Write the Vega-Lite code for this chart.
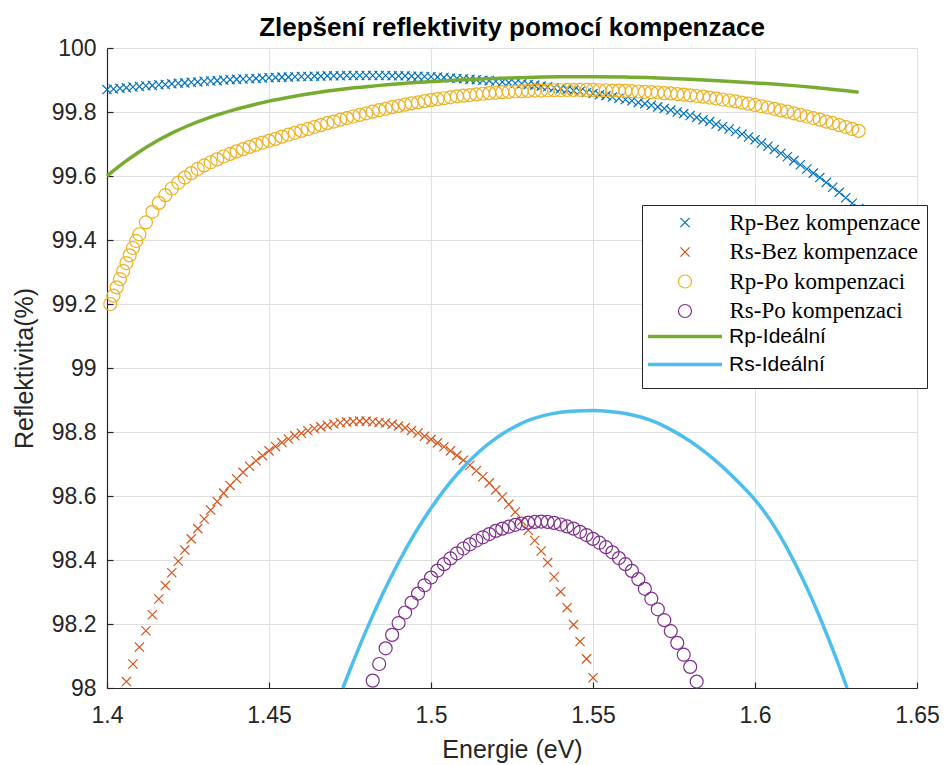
{
"$schema":"https://vega.github.io/schema/vega-lite/v6.json",
"width":810,"height":640,
"autosize":{"type":"none"},
"padding":{"left":107,"top":48,"right":29,"bottom":77},
"background":"#ffffff",
"title":{"text":"Zlepšení reflektivity pomocí kompenzace","font":"Liberation Sans","fontSize":26,"fontWeight":"bold","color":"#000000","offset":-4,"anchor":"middle"},
"config":{
 "view":{"stroke":null},
 "axis":{"domainColor":"#262626","domainWidth":1.2,"tickColor":"#262626","tickSize":-6,"tickWidth":1.2,"gridColor":"#dfdfdf","gridWidth":1,"labelFont":"Liberation Sans","labelFontSize":23,"labelColor":"#262626","titleFont":"Liberation Sans","titleFontSize":25,"titleColor":"#262626","titleFontWeight":"normal","labelFlush":false}
},
"data":{"values":[
{"s":"Rp-Bez kompenzace","e":1.400,"r":99.870},{"s":"Rp-Bez kompenzace","e":1.402,"r":99.872},{"s":"Rp-Bez kompenzace","e":1.404,"r":99.874},{"s":"Rp-Bez kompenzace","e":1.406,"r":99.876},{"s":"Rp-Bez kompenzace","e":1.408,"r":99.878},{"s":"Rp-Bez kompenzace","e":1.410,"r":99.880},{"s":"Rp-Bez kompenzace","e":1.412,"r":99.882},{"s":"Rp-Bez kompenzace","e":1.414,"r":99.883},{"s":"Rp-Bez kompenzace","e":1.416,"r":99.885},{"s":"Rp-Bez kompenzace","e":1.418,"r":99.886},
{"s":"Rp-Bez kompenzace","e":1.420,"r":99.888},{"s":"Rp-Bez kompenzace","e":1.422,"r":99.890},{"s":"Rp-Bez kompenzace","e":1.424,"r":99.891},{"s":"Rp-Bez kompenzace","e":1.426,"r":99.893},{"s":"Rp-Bez kompenzace","e":1.428,"r":99.894},{"s":"Rp-Bez kompenzace","e":1.430,"r":99.896},{"s":"Rp-Bez kompenzace","e":1.432,"r":99.897},{"s":"Rp-Bez kompenzace","e":1.434,"r":99.898},{"s":"Rp-Bez kompenzace","e":1.436,"r":99.900},{"s":"Rp-Bez kompenzace","e":1.438,"r":99.901},
{"s":"Rp-Bez kompenzace","e":1.440,"r":99.902},{"s":"Rp-Bez kompenzace","e":1.442,"r":99.903},{"s":"Rp-Bez kompenzace","e":1.444,"r":99.904},{"s":"Rp-Bez kompenzace","e":1.446,"r":99.905},{"s":"Rp-Bez kompenzace","e":1.448,"r":99.906},{"s":"Rp-Bez kompenzace","e":1.450,"r":99.907},{"s":"Rp-Bez kompenzace","e":1.452,"r":99.908},{"s":"Rp-Bez kompenzace","e":1.454,"r":99.909},{"s":"Rp-Bez kompenzace","e":1.456,"r":99.909},{"s":"Rp-Bez kompenzace","e":1.458,"r":99.910},
{"s":"Rp-Bez kompenzace","e":1.460,"r":99.911},{"s":"Rp-Bez kompenzace","e":1.462,"r":99.911},{"s":"Rp-Bez kompenzace","e":1.464,"r":99.912},{"s":"Rp-Bez kompenzace","e":1.466,"r":99.912},{"s":"Rp-Bez kompenzace","e":1.468,"r":99.913},{"s":"Rp-Bez kompenzace","e":1.470,"r":99.913},{"s":"Rp-Bez kompenzace","e":1.472,"r":99.913},{"s":"Rp-Bez kompenzace","e":1.474,"r":99.914},{"s":"Rp-Bez kompenzace","e":1.476,"r":99.914},{"s":"Rp-Bez kompenzace","e":1.478,"r":99.914},
{"s":"Rp-Bez kompenzace","e":1.480,"r":99.914},{"s":"Rp-Bez kompenzace","e":1.482,"r":99.914},{"s":"Rp-Bez kompenzace","e":1.484,"r":99.914},{"s":"Rp-Bez kompenzace","e":1.486,"r":99.914},{"s":"Rp-Bez kompenzace","e":1.488,"r":99.913},{"s":"Rp-Bez kompenzace","e":1.490,"r":99.913},{"s":"Rp-Bez kompenzace","e":1.492,"r":99.913},{"s":"Rp-Bez kompenzace","e":1.494,"r":99.912},{"s":"Rp-Bez kompenzace","e":1.496,"r":99.912},{"s":"Rp-Bez kompenzace","e":1.498,"r":99.911},
{"s":"Rp-Bez kompenzace","e":1.500,"r":99.910},{"s":"Rp-Bez kompenzace","e":1.502,"r":99.909},{"s":"Rp-Bez kompenzace","e":1.504,"r":99.908},{"s":"Rp-Bez kompenzace","e":1.506,"r":99.906},{"s":"Rp-Bez kompenzace","e":1.508,"r":99.905},{"s":"Rp-Bez kompenzace","e":1.510,"r":99.904},{"s":"Rp-Bez kompenzace","e":1.512,"r":99.902},{"s":"Rp-Bez kompenzace","e":1.514,"r":99.901},{"s":"Rp-Bez kompenzace","e":1.516,"r":99.899},{"s":"Rp-Bez kompenzace","e":1.518,"r":99.898},
{"s":"Rp-Bez kompenzace","e":1.520,"r":99.896},{"s":"Rp-Bez kompenzace","e":1.522,"r":99.894},{"s":"Rp-Bez kompenzace","e":1.524,"r":99.892},{"s":"Rp-Bez kompenzace","e":1.526,"r":99.890},{"s":"Rp-Bez kompenzace","e":1.528,"r":99.888},{"s":"Rp-Bez kompenzace","e":1.530,"r":99.886},{"s":"Rp-Bez kompenzace","e":1.532,"r":99.884},{"s":"Rp-Bez kompenzace","e":1.534,"r":99.881},{"s":"Rp-Bez kompenzace","e":1.536,"r":99.879},{"s":"Rp-Bez kompenzace","e":1.538,"r":99.876},
{"s":"Rp-Bez kompenzace","e":1.540,"r":99.873},{"s":"Rp-Bez kompenzace","e":1.542,"r":99.870},{"s":"Rp-Bez kompenzace","e":1.544,"r":99.867},{"s":"Rp-Bez kompenzace","e":1.546,"r":99.864},{"s":"Rp-Bez kompenzace","e":1.548,"r":99.861},{"s":"Rp-Bez kompenzace","e":1.550,"r":99.858},{"s":"Rp-Bez kompenzace","e":1.552,"r":99.854},{"s":"Rp-Bez kompenzace","e":1.554,"r":99.851},{"s":"Rp-Bez kompenzace","e":1.556,"r":99.847},{"s":"Rp-Bez kompenzace","e":1.558,"r":99.843},
{"s":"Rp-Bez kompenzace","e":1.560,"r":99.839},{"s":"Rp-Bez kompenzace","e":1.562,"r":99.835},{"s":"Rp-Bez kompenzace","e":1.564,"r":99.830},{"s":"Rp-Bez kompenzace","e":1.566,"r":99.826},{"s":"Rp-Bez kompenzace","e":1.568,"r":99.821},{"s":"Rp-Bez kompenzace","e":1.570,"r":99.816},{"s":"Rp-Bez kompenzace","e":1.572,"r":99.811},{"s":"Rp-Bez kompenzace","e":1.574,"r":99.806},{"s":"Rp-Bez kompenzace","e":1.576,"r":99.800},{"s":"Rp-Bez kompenzace","e":1.578,"r":99.795},
{"s":"Rp-Bez kompenzace","e":1.580,"r":99.789},{"s":"Rp-Bez kompenzace","e":1.582,"r":99.783},{"s":"Rp-Bez kompenzace","e":1.584,"r":99.776},{"s":"Rp-Bez kompenzace","e":1.586,"r":99.770},{"s":"Rp-Bez kompenzace","e":1.588,"r":99.762},{"s":"Rp-Bez kompenzace","e":1.590,"r":99.755},{"s":"Rp-Bez kompenzace","e":1.592,"r":99.747},{"s":"Rp-Bez kompenzace","e":1.594,"r":99.739},{"s":"Rp-Bez kompenzace","e":1.596,"r":99.731},{"s":"Rp-Bez kompenzace","e":1.598,"r":99.722},
{"s":"Rp-Bez kompenzace","e":1.600,"r":99.713},{"s":"Rp-Bez kompenzace","e":1.602,"r":99.703},{"s":"Rp-Bez kompenzace","e":1.604,"r":99.693},{"s":"Rp-Bez kompenzace","e":1.606,"r":99.683},{"s":"Rp-Bez kompenzace","e":1.608,"r":99.671},{"s":"Rp-Bez kompenzace","e":1.610,"r":99.660},{"s":"Rp-Bez kompenzace","e":1.612,"r":99.648},{"s":"Rp-Bez kompenzace","e":1.614,"r":99.635},{"s":"Rp-Bez kompenzace","e":1.616,"r":99.622},{"s":"Rp-Bez kompenzace","e":1.618,"r":99.609},
{"s":"Rp-Bez kompenzace","e":1.620,"r":99.595},{"s":"Rp-Bez kompenzace","e":1.622,"r":99.580},{"s":"Rp-Bez kompenzace","e":1.624,"r":99.565},{"s":"Rp-Bez kompenzace","e":1.626,"r":99.549},{"s":"Rp-Bez kompenzace","e":1.628,"r":99.532},{"s":"Rp-Bez kompenzace","e":1.630,"r":99.515},{"s":"Rp-Bez kompenzace","e":1.632,"r":99.498},
{"s":"Rs-Bez kompenzace","e":1.406,"r":98.020},{"s":"Rs-Bez kompenzace","e":1.408,"r":98.075},{"s":"Rs-Bez kompenzace","e":1.410,"r":98.128},{"s":"Rs-Bez kompenzace","e":1.412,"r":98.179},{"s":"Rs-Bez kompenzace","e":1.414,"r":98.229},{"s":"Rs-Bez kompenzace","e":1.416,"r":98.278},{"s":"Rs-Bez kompenzace","e":1.418,"r":98.320},{"s":"Rs-Bez kompenzace","e":1.420,"r":98.360},{"s":"Rs-Bez kompenzace","e":1.422,"r":98.396},{"s":"Rs-Bez kompenzace","e":1.424,"r":98.431},
{"s":"Rs-Bez kompenzace","e":1.426,"r":98.466},{"s":"Rs-Bez kompenzace","e":1.428,"r":98.498},{"s":"Rs-Bez kompenzace","e":1.430,"r":98.528},{"s":"Rs-Bez kompenzace","e":1.432,"r":98.556},{"s":"Rs-Bez kompenzace","e":1.434,"r":98.583},{"s":"Rs-Bez kompenzace","e":1.436,"r":98.609},{"s":"Rs-Bez kompenzace","e":1.438,"r":98.633},{"s":"Rs-Bez kompenzace","e":1.440,"r":98.654},{"s":"Rs-Bez kompenzace","e":1.442,"r":98.674},{"s":"Rs-Bez kompenzace","e":1.444,"r":98.693},
{"s":"Rs-Bez kompenzace","e":1.446,"r":98.710},{"s":"Rs-Bez kompenzace","e":1.448,"r":98.726},{"s":"Rs-Bez kompenzace","e":1.450,"r":98.741},{"s":"Rs-Bez kompenzace","e":1.452,"r":98.755},{"s":"Rs-Bez kompenzace","e":1.454,"r":98.767},{"s":"Rs-Bez kompenzace","e":1.456,"r":98.778},{"s":"Rs-Bez kompenzace","e":1.458,"r":98.788},{"s":"Rs-Bez kompenzace","e":1.460,"r":98.796},{"s":"Rs-Bez kompenzace","e":1.462,"r":98.804},{"s":"Rs-Bez kompenzace","e":1.464,"r":98.811},
{"s":"Rs-Bez kompenzace","e":1.466,"r":98.816},{"s":"Rs-Bez kompenzace","e":1.468,"r":98.821},{"s":"Rs-Bez kompenzace","e":1.470,"r":98.825},{"s":"Rs-Bez kompenzace","e":1.472,"r":98.829},{"s":"Rs-Bez kompenzace","e":1.474,"r":98.831},{"s":"Rs-Bez kompenzace","e":1.476,"r":98.833},{"s":"Rs-Bez kompenzace","e":1.478,"r":98.834},{"s":"Rs-Bez kompenzace","e":1.480,"r":98.834},{"s":"Rs-Bez kompenzace","e":1.482,"r":98.832},{"s":"Rs-Bez kompenzace","e":1.484,"r":98.830},
{"s":"Rs-Bez kompenzace","e":1.486,"r":98.828},{"s":"Rs-Bez kompenzace","e":1.488,"r":98.824},{"s":"Rs-Bez kompenzace","e":1.490,"r":98.819},{"s":"Rs-Bez kompenzace","e":1.492,"r":98.813},{"s":"Rs-Bez kompenzace","e":1.494,"r":98.805},{"s":"Rs-Bez kompenzace","e":1.496,"r":98.797},{"s":"Rs-Bez kompenzace","e":1.498,"r":98.787},{"s":"Rs-Bez kompenzace","e":1.500,"r":98.777},{"s":"Rs-Bez kompenzace","e":1.502,"r":98.766},{"s":"Rs-Bez kompenzace","e":1.504,"r":98.754},
{"s":"Rs-Bez kompenzace","e":1.506,"r":98.741},{"s":"Rs-Bez kompenzace","e":1.508,"r":98.727},{"s":"Rs-Bez kompenzace","e":1.510,"r":98.712},{"s":"Rs-Bez kompenzace","e":1.512,"r":98.696},{"s":"Rs-Bez kompenzace","e":1.514,"r":98.679},{"s":"Rs-Bez kompenzace","e":1.516,"r":98.660},{"s":"Rs-Bez kompenzace","e":1.518,"r":98.641},{"s":"Rs-Bez kompenzace","e":1.520,"r":98.619},{"s":"Rs-Bez kompenzace","e":1.522,"r":98.597},{"s":"Rs-Bez kompenzace","e":1.524,"r":98.574},
{"s":"Rs-Bez kompenzace","e":1.526,"r":98.550},{"s":"Rs-Bez kompenzace","e":1.528,"r":98.522},{"s":"Rs-Bez kompenzace","e":1.530,"r":98.493},{"s":"Rs-Bez kompenzace","e":1.532,"r":98.461},{"s":"Rs-Bez kompenzace","e":1.534,"r":98.428},{"s":"Rs-Bez kompenzace","e":1.536,"r":98.392},{"s":"Rs-Bez kompenzace","e":1.538,"r":98.347},{"s":"Rs-Bez kompenzace","e":1.540,"r":98.301},{"s":"Rs-Bez kompenzace","e":1.542,"r":98.251},{"s":"Rs-Bez kompenzace","e":1.544,"r":98.198},
{"s":"Rs-Bez kompenzace","e":1.546,"r":98.145},{"s":"Rs-Bez kompenzace","e":1.548,"r":98.091},{"s":"Rs-Bez kompenzace","e":1.550,"r":98.032},
{"s":"Rp-Po kompenzaci","e":1.401,"r":99.200},{"s":"Rp-Po kompenzaci","e":1.402,"r":99.226},{"s":"Rp-Po kompenzaci","e":1.403,"r":99.252},{"s":"Rp-Po kompenzaci","e":1.404,"r":99.278},{"s":"Rp-Po kompenzaci","e":1.405,"r":99.303},{"s":"Rp-Po kompenzaci","e":1.406,"r":99.328},{"s":"Rp-Po kompenzaci","e":1.407,"r":99.352},{"s":"Rp-Po kompenzaci","e":1.408,"r":99.375},{"s":"Rp-Po kompenzaci","e":1.409,"r":99.397},{"s":"Rp-Po kompenzaci","e":1.410,"r":99.418},
{"s":"Rp-Po kompenzaci","e":1.412,"r":99.455},{"s":"Rp-Po kompenzaci","e":1.414,"r":99.488},{"s":"Rp-Po kompenzaci","e":1.416,"r":99.516},{"s":"Rp-Po kompenzaci","e":1.418,"r":99.540},{"s":"Rp-Po kompenzaci","e":1.420,"r":99.561},{"s":"Rp-Po kompenzaci","e":1.422,"r":99.579},{"s":"Rp-Po kompenzaci","e":1.424,"r":99.595},{"s":"Rp-Po kompenzaci","e":1.426,"r":99.609},{"s":"Rp-Po kompenzaci","e":1.428,"r":99.622},{"s":"Rp-Po kompenzaci","e":1.430,"r":99.633},
{"s":"Rp-Po kompenzaci","e":1.432,"r":99.643},{"s":"Rp-Po kompenzaci","e":1.434,"r":99.652},{"s":"Rp-Po kompenzaci","e":1.436,"r":99.661},{"s":"Rp-Po kompenzaci","e":1.438,"r":99.669},{"s":"Rp-Po kompenzaci","e":1.440,"r":99.677},{"s":"Rp-Po kompenzaci","e":1.442,"r":99.684},{"s":"Rp-Po kompenzaci","e":1.444,"r":99.691},{"s":"Rp-Po kompenzaci","e":1.446,"r":99.698},{"s":"Rp-Po kompenzaci","e":1.448,"r":99.704},{"s":"Rp-Po kompenzaci","e":1.450,"r":99.710},
{"s":"Rp-Po kompenzaci","e":1.452,"r":99.716},{"s":"Rp-Po kompenzaci","e":1.454,"r":99.723},{"s":"Rp-Po kompenzaci","e":1.456,"r":99.729},{"s":"Rp-Po kompenzaci","e":1.458,"r":99.735},{"s":"Rp-Po kompenzaci","e":1.460,"r":99.741},{"s":"Rp-Po kompenzaci","e":1.462,"r":99.747},{"s":"Rp-Po kompenzaci","e":1.464,"r":99.753},{"s":"Rp-Po kompenzaci","e":1.466,"r":99.759},{"s":"Rp-Po kompenzaci","e":1.468,"r":99.765},{"s":"Rp-Po kompenzaci","e":1.470,"r":99.770},
{"s":"Rp-Po kompenzaci","e":1.472,"r":99.776},{"s":"Rp-Po kompenzaci","e":1.474,"r":99.781},{"s":"Rp-Po kompenzaci","e":1.476,"r":99.786},{"s":"Rp-Po kompenzaci","e":1.478,"r":99.791},{"s":"Rp-Po kompenzaci","e":1.480,"r":99.796},{"s":"Rp-Po kompenzaci","e":1.482,"r":99.801},{"s":"Rp-Po kompenzaci","e":1.484,"r":99.806},{"s":"Rp-Po kompenzaci","e":1.486,"r":99.810},{"s":"Rp-Po kompenzaci","e":1.488,"r":99.815},{"s":"Rp-Po kompenzaci","e":1.490,"r":99.819},
{"s":"Rp-Po kompenzaci","e":1.492,"r":99.823},{"s":"Rp-Po kompenzaci","e":1.494,"r":99.827},{"s":"Rp-Po kompenzaci","e":1.496,"r":99.830},{"s":"Rp-Po kompenzaci","e":1.498,"r":99.834},{"s":"Rp-Po kompenzaci","e":1.500,"r":99.837},{"s":"Rp-Po kompenzaci","e":1.502,"r":99.840},{"s":"Rp-Po kompenzaci","e":1.504,"r":99.843},{"s":"Rp-Po kompenzaci","e":1.506,"r":99.846},{"s":"Rp-Po kompenzaci","e":1.508,"r":99.849},{"s":"Rp-Po kompenzaci","e":1.510,"r":99.851},
{"s":"Rp-Po kompenzaci","e":1.512,"r":99.853},{"s":"Rp-Po kompenzaci","e":1.514,"r":99.855},{"s":"Rp-Po kompenzaci","e":1.516,"r":99.857},{"s":"Rp-Po kompenzaci","e":1.518,"r":99.859},{"s":"Rp-Po kompenzaci","e":1.520,"r":99.860},{"s":"Rp-Po kompenzaci","e":1.522,"r":99.862},{"s":"Rp-Po kompenzaci","e":1.524,"r":99.863},{"s":"Rp-Po kompenzaci","e":1.526,"r":99.864},{"s":"Rp-Po kompenzaci","e":1.528,"r":99.865},{"s":"Rp-Po kompenzaci","e":1.530,"r":99.866},
{"s":"Rp-Po kompenzaci","e":1.532,"r":99.867},{"s":"Rp-Po kompenzaci","e":1.534,"r":99.867},{"s":"Rp-Po kompenzaci","e":1.536,"r":99.868},{"s":"Rp-Po kompenzaci","e":1.538,"r":99.868},{"s":"Rp-Po kompenzaci","e":1.540,"r":99.868},{"s":"Rp-Po kompenzaci","e":1.542,"r":99.869},{"s":"Rp-Po kompenzaci","e":1.544,"r":99.869},{"s":"Rp-Po kompenzaci","e":1.546,"r":99.869},{"s":"Rp-Po kompenzaci","e":1.548,"r":99.869},{"s":"Rp-Po kompenzaci","e":1.550,"r":99.869},
{"s":"Rp-Po kompenzaci","e":1.552,"r":99.868},{"s":"Rp-Po kompenzaci","e":1.554,"r":99.868},{"s":"Rp-Po kompenzaci","e":1.556,"r":99.867},{"s":"Rp-Po kompenzaci","e":1.558,"r":99.867},{"s":"Rp-Po kompenzaci","e":1.560,"r":99.866},{"s":"Rp-Po kompenzaci","e":1.562,"r":99.865},{"s":"Rp-Po kompenzaci","e":1.564,"r":99.864},{"s":"Rp-Po kompenzaci","e":1.566,"r":99.863},{"s":"Rp-Po kompenzaci","e":1.568,"r":99.862},{"s":"Rp-Po kompenzaci","e":1.570,"r":99.861},
{"s":"Rp-Po kompenzaci","e":1.572,"r":99.859},{"s":"Rp-Po kompenzaci","e":1.574,"r":99.858},{"s":"Rp-Po kompenzaci","e":1.576,"r":99.856},{"s":"Rp-Po kompenzaci","e":1.578,"r":99.854},{"s":"Rp-Po kompenzaci","e":1.580,"r":99.852},{"s":"Rp-Po kompenzaci","e":1.582,"r":99.850},{"s":"Rp-Po kompenzaci","e":1.584,"r":99.848},{"s":"Rp-Po kompenzaci","e":1.586,"r":99.845},{"s":"Rp-Po kompenzaci","e":1.588,"r":99.842},{"s":"Rp-Po kompenzaci","e":1.590,"r":99.839},
{"s":"Rp-Po kompenzaci","e":1.592,"r":99.836},{"s":"Rp-Po kompenzaci","e":1.594,"r":99.833},{"s":"Rp-Po kompenzaci","e":1.596,"r":99.829},{"s":"Rp-Po kompenzaci","e":1.598,"r":99.826},{"s":"Rp-Po kompenzaci","e":1.600,"r":99.822},{"s":"Rp-Po kompenzaci","e":1.602,"r":99.818},{"s":"Rp-Po kompenzaci","e":1.604,"r":99.814},{"s":"Rp-Po kompenzaci","e":1.606,"r":99.810},{"s":"Rp-Po kompenzaci","e":1.608,"r":99.805},{"s":"Rp-Po kompenzaci","e":1.610,"r":99.801},
{"s":"Rp-Po kompenzaci","e":1.612,"r":99.796},{"s":"Rp-Po kompenzaci","e":1.614,"r":99.791},{"s":"Rp-Po kompenzaci","e":1.616,"r":99.786},{"s":"Rp-Po kompenzaci","e":1.618,"r":99.781},{"s":"Rp-Po kompenzaci","e":1.620,"r":99.776},{"s":"Rp-Po kompenzaci","e":1.622,"r":99.770},{"s":"Rp-Po kompenzaci","e":1.624,"r":99.765},{"s":"Rp-Po kompenzaci","e":1.626,"r":99.759},{"s":"Rp-Po kompenzaci","e":1.628,"r":99.753},{"s":"Rp-Po kompenzaci","e":1.630,"r":99.747},{"s":"Rp-Po kompenzaci","e":1.632,"r":99.741},
{"s":"Rs-Po kompenzaci","e":1.482,"r":98.023},{"s":"Rs-Po kompenzaci","e":1.484,"r":98.075},{"s":"Rs-Po kompenzaci","e":1.486,"r":98.124},{"s":"Rs-Po kompenzaci","e":1.488,"r":98.166},{"s":"Rs-Po kompenzaci","e":1.490,"r":98.203},{"s":"Rs-Po kompenzaci","e":1.492,"r":98.236},{"s":"Rs-Po kompenzaci","e":1.494,"r":98.267},{"s":"Rs-Po kompenzaci","e":1.496,"r":98.295},{"s":"Rs-Po kompenzaci","e":1.498,"r":98.321},{"s":"Rs-Po kompenzaci","e":1.500,"r":98.345},
{"s":"Rs-Po kompenzaci","e":1.502,"r":98.367},{"s":"Rs-Po kompenzaci","e":1.504,"r":98.387},{"s":"Rs-Po kompenzaci","e":1.506,"r":98.405},{"s":"Rs-Po kompenzaci","e":1.508,"r":98.421},{"s":"Rs-Po kompenzaci","e":1.510,"r":98.436},{"s":"Rs-Po kompenzaci","e":1.512,"r":98.449},{"s":"Rs-Po kompenzaci","e":1.514,"r":98.461},{"s":"Rs-Po kompenzaci","e":1.516,"r":98.471},{"s":"Rs-Po kompenzaci","e":1.518,"r":98.481},{"s":"Rs-Po kompenzaci","e":1.520,"r":98.491},
{"s":"Rs-Po kompenzaci","e":1.522,"r":98.498},{"s":"Rs-Po kompenzaci","e":1.524,"r":98.504},{"s":"Rs-Po kompenzaci","e":1.526,"r":98.510},{"s":"Rs-Po kompenzaci","e":1.528,"r":98.514},{"s":"Rs-Po kompenzaci","e":1.530,"r":98.517},{"s":"Rs-Po kompenzaci","e":1.532,"r":98.519},{"s":"Rs-Po kompenzaci","e":1.534,"r":98.520},{"s":"Rs-Po kompenzaci","e":1.536,"r":98.519},{"s":"Rs-Po kompenzaci","e":1.538,"r":98.516},{"s":"Rs-Po kompenzaci","e":1.540,"r":98.511},
{"s":"Rs-Po kompenzaci","e":1.542,"r":98.505},{"s":"Rs-Po kompenzaci","e":1.544,"r":98.498},{"s":"Rs-Po kompenzaci","e":1.546,"r":98.488},{"s":"Rs-Po kompenzaci","e":1.548,"r":98.478},{"s":"Rs-Po kompenzaci","e":1.550,"r":98.466},{"s":"Rs-Po kompenzaci","e":1.552,"r":98.454},{"s":"Rs-Po kompenzaci","e":1.554,"r":98.440},{"s":"Rs-Po kompenzaci","e":1.556,"r":98.424},{"s":"Rs-Po kompenzaci","e":1.558,"r":98.406},{"s":"Rs-Po kompenzaci","e":1.560,"r":98.387},
{"s":"Rs-Po kompenzaci","e":1.562,"r":98.366},{"s":"Rs-Po kompenzaci","e":1.564,"r":98.340},{"s":"Rs-Po kompenzaci","e":1.566,"r":98.310},{"s":"Rs-Po kompenzaci","e":1.568,"r":98.279},{"s":"Rs-Po kompenzaci","e":1.570,"r":98.246},{"s":"Rs-Po kompenzaci","e":1.572,"r":98.212},{"s":"Rs-Po kompenzaci","e":1.574,"r":98.178},{"s":"Rs-Po kompenzaci","e":1.576,"r":98.141},{"s":"Rs-Po kompenzaci","e":1.578,"r":98.104},{"s":"Rs-Po kompenzaci","e":1.580,"r":98.066},{"s":"Rs-Po kompenzaci","e":1.582,"r":98.020},
{"s":"Rp-Ideální","e":1.400,"r":99.600},{"s":"Rp-Ideální","e":1.405,"r":99.640},{"s":"Rp-Ideální","e":1.410,"r":99.676},{"s":"Rp-Ideální","e":1.415,"r":99.707},{"s":"Rp-Ideální","e":1.420,"r":99.734},{"s":"Rp-Ideální","e":1.425,"r":99.757},{"s":"Rp-Ideální","e":1.430,"r":99.777},{"s":"Rp-Ideální","e":1.435,"r":99.794},{"s":"Rp-Ideální","e":1.440,"r":99.809},{"s":"Rp-Ideální","e":1.445,"r":99.822},
{"s":"Rp-Ideální","e":1.450,"r":99.834},{"s":"Rp-Ideální","e":1.455,"r":99.844},{"s":"Rp-Ideální","e":1.460,"r":99.853},{"s":"Rp-Ideální","e":1.465,"r":99.861},{"s":"Rp-Ideální","e":1.470,"r":99.868},{"s":"Rp-Ideální","e":1.475,"r":99.874},{"s":"Rp-Ideální","e":1.480,"r":99.879},{"s":"Rp-Ideální","e":1.485,"r":99.884},{"s":"Rp-Ideální","e":1.490,"r":99.888},{"s":"Rp-Ideální","e":1.495,"r":99.892},
{"s":"Rp-Ideální","e":1.500,"r":99.895},{"s":"Rp-Ideální","e":1.510,"r":99.901},{"s":"Rp-Ideální","e":1.520,"r":99.905},{"s":"Rp-Ideální","e":1.530,"r":99.908},{"s":"Rp-Ideální","e":1.540,"r":99.910},{"s":"Rp-Ideální","e":1.550,"r":99.910},{"s":"Rp-Ideální","e":1.560,"r":99.909},{"s":"Rp-Ideální","e":1.570,"r":99.906},{"s":"Rp-Ideální","e":1.580,"r":99.902},{"s":"Rp-Ideální","e":1.590,"r":99.897},
{"s":"Rp-Ideální","e":1.600,"r":99.891},{"s":"Rp-Ideální","e":1.610,"r":99.884},{"s":"Rp-Ideální","e":1.620,"r":99.875},{"s":"Rp-Ideální","e":1.632,"r":99.862},
{"s":"Rs-Ideální","e":1.4728,"r":98.000},{"s":"Rs-Ideální","e":1.475,"r":98.057},{"s":"Rs-Ideální","e":1.480,"r":98.180},{"s":"Rs-Ideální","e":1.485,"r":98.292},{"s":"Rs-Ideální","e":1.490,"r":98.393},{"s":"Rs-Ideální","e":1.495,"r":98.483},{"s":"Rs-Ideální","e":1.500,"r":98.562},{"s":"Rs-Ideální","e":1.505,"r":98.631},{"s":"Rs-Ideální","e":1.510,"r":98.690},{"s":"Rs-Ideální","e":1.515,"r":98.740},
{"s":"Rs-Ideální","e":1.520,"r":98.780},{"s":"Rs-Ideální","e":1.525,"r":98.812},{"s":"Rs-Ideální","e":1.530,"r":98.836},{"s":"Rs-Ideální","e":1.535,"r":98.852},{"s":"Rs-Ideální","e":1.540,"r":98.862},{"s":"Rs-Ideální","e":1.545,"r":98.866},{"s":"Rs-Ideální","e":1.550,"r":98.867},{"s":"Rs-Ideální","e":1.555,"r":98.864},{"s":"Rs-Ideální","e":1.560,"r":98.858},{"s":"Rs-Ideální","e":1.565,"r":98.846},
{"s":"Rs-Ideální","e":1.570,"r":98.828},{"s":"Rs-Ideální","e":1.575,"r":98.802},{"s":"Rs-Ideální","e":1.580,"r":98.771},{"s":"Rs-Ideální","e":1.585,"r":98.734},{"s":"Rs-Ideální","e":1.590,"r":98.691},{"s":"Rs-Ideální","e":1.595,"r":98.642},{"s":"Rs-Ideální","e":1.600,"r":98.588},{"s":"Rs-Ideální","e":1.605,"r":98.520},{"s":"Rs-Ideální","e":1.610,"r":98.435},{"s":"Rs-Ideální","e":1.615,"r":98.335},
{"s":"Rs-Ideální","e":1.620,"r":98.221},{"s":"Rs-Ideální","e":1.625,"r":98.094},{"s":"Rs-Ideální","e":1.6284,"r":98.000}
]},
"encoding":{
 "x":{"field":"e","type":"quantitative","scale":{"domain":[1.4,1.65],"nice":false,"zero":false},
  "axis":{"title":"Energie (eV)","values":[1.4,1.45,1.5,1.55,1.6,1.65],"format":"~g","labelPadding":22,"titlePadding":10,"grid":true}},
 "y":{"field":"r","type":"quantitative","scale":{"domain":[98,100],"nice":false,"zero":false},
  "axis":{"title":"Reflektivita(%)","values":[98,98.2,98.4,98.6,98.8,99,99.2,99.4,99.6,99.8,100],"format":"~g","labelPadding":17,"titlePadding":14,"grid":true}}
},
"layer":[
 {
  "transform":[{"filter":"indexof(datum.s,'Ideáln') < 0"}],
  "mark":{"type":"point","filled":false,"size":400,"strokeWidth":1.2,"opacity":1},
  "encoding":{
   "color":{"field":"s","type":"nominal",
    "scale":{"domain":["Rp-Bez kompenzace","Rs-Bez kompenzace","Rp-Po kompenzaci","Rs-Po kompenzaci","Rp-Ideální","Rs-Ideální"],"range":["#0072BD","#D95319","#EDB120","#7E2F8E","#77AC30","#4DBEEE"]},
    "legend":{"orient":"none","legendX":535,"legendY":157,"title":null,"fillColor":"#ffffff","strokeColor":"#262626","padding":6,"cornerRadius":0,"symbolSize":400,"symbolStrokeWidth":1.2,"symbolOffset":25.5,"labelOffset":33,"labelLimit":400,"rowPadding":5.5,"labelFont":"Liberation Serif","labelFontSize":23,"labelColor":"#000000",
     "labelExpr":"indexof(datum.label,'Ideáln')>=0 ? '' : datum.label"}},
   "shape":{"field":"s","type":"nominal",
    "scale":{"domain":["Rp-Bez kompenzace","Rs-Bez kompenzace","Rp-Po kompenzaci","Rs-Po kompenzaci","Rp-Ideální","Rs-Ideální"],
     "range":["M-0.46,-0.46L0.46,0.46M-0.46,0.46L0.46,-0.46","M-0.46,-0.46L0.46,0.46M-0.46,0.46L0.46,-0.46","M0.65,0A0.65,0.65,0,1,1,-0.65,0A0.65,0.65,0,1,1,0.65,0Z","M0.65,0A0.65,0.65,0,1,1,-0.65,0A0.65,0.65,0,1,1,0.65,0Z","M0,0","M0,0"]},
    "legend":{"orient":"none","legendX":535,"legendY":157,"title":null,"fillColor":"#ffffff","strokeColor":"#262626","padding":6,"cornerRadius":0,"symbolSize":400,"symbolStrokeWidth":1.2,"symbolOffset":25.5,"labelOffset":33,"labelLimit":400,"rowPadding":5.5,"labelFont":"Liberation Serif","labelFontSize":23,"labelColor":"#000000",
     "labelExpr":"indexof(datum.label,'Ideáln')>=0 ? '' : datum.label"}}
  }
 },
 {
  "transform":[{"filter":"indexof(datum.s,'Ideáln') >= 0"}],
  "mark":{"type":"line","strokeWidth":3.5,"interpolate":"monotone"},
  "encoding":{
   "stroke":{"field":"s","type":"nominal",
    "scale":{"domain":["Rp-Ideální","Rs-Ideální"],"range":["#77AC30","#4DBEEE"]},
    "legend":{"orient":"none","legendX":541,"legendY":276.5,"title":null,"padding":0,"symbolType":"M-3.7,0L3.7,0","symbolSize":400,"symbolStrokeWidth":3.5,"symbolOffset":25,"labelOffset":32,"labelLimit":400,"rowPadding":6,"labelFont":"Liberation Sans","labelFontSize":21,"labelColor":"#000000"}}
  }
 }
]
}
